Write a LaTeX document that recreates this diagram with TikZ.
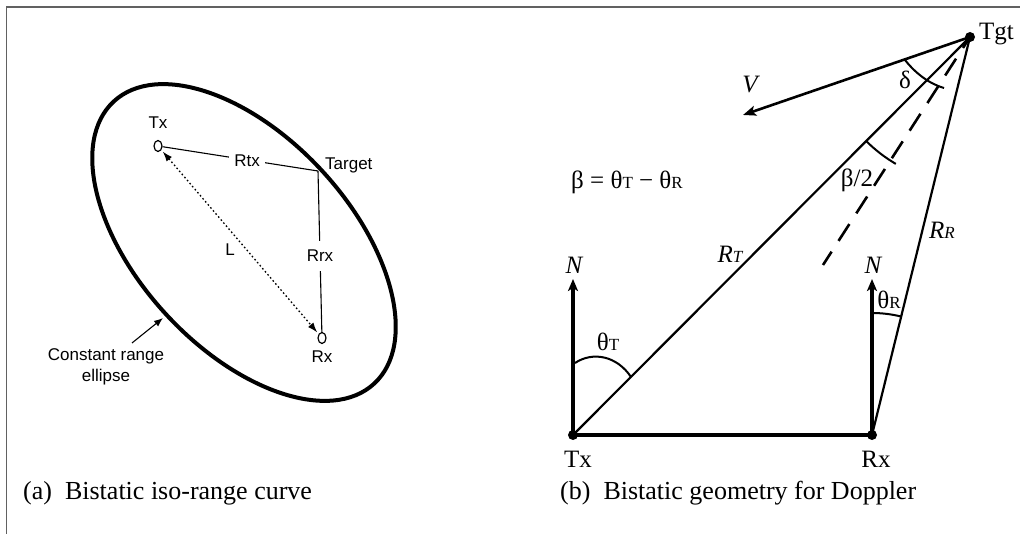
\documentclass[tikz,border=0pt]{standalone}
\usepackage{fontspec}
\setmainfont{Liberation Serif}
\newfontfamily\arialf{Liberation Sans}
\usetikzlibrary{arrows.meta,shapes.geometric,calc}
\newcommand\mysub[1]{{\fontsize{17}{20}\selectfont #1}}
\tikzset{
  frameline/.style={draw=black!62, line width=1.3pt},
  alab/.style={font=\arialf\fontsize{17}{21}\selectfont, inner sep=1pt},
  blab/.style={font=\fontsize{25}{30}\selectfont, inner sep=0pt},
  caplab/.style={font=\fontsize{26}{31}\selectfont, anchor=base west, inner sep=0pt},
  station/.style={draw, ellipse, line width=1.2pt, minimum width=8pt, minimum height=11pt, inner sep=0pt},
  aline/.style={line width=1.1pt},
  dotarrow/.style={line width=1.3pt, dash pattern=on 1.6pt off 2.4pt, {Latex[length=10pt,width=7pt]}-{Latex[length=10pt,width=7pt]}, shorten <=2pt, shorten >=2pt},
  pointarrow/.style={line width=1.1pt, -{Latex[length=9pt,width=7pt]}},
  dot/.style={circle, fill, inner sep=0pt, minimum size=10pt},
  baseln/.style={line width=3.3pt},
  northarrow/.style={line width=3.3pt, -{Stealth[length=12pt,width=10pt,inset=3pt]}},
  rangeln/.style={line width=2.2pt},
  velarrow/.style={line width=2.6pt, -{Stealth[length=13pt,width=10pt,inset=3pt]}},
  bisect/.style={line width=2.6pt, dash pattern=on 13pt off 12.8pt on 20pt off 12.8pt on 20pt off 12.8pt on 20pt off 12.8pt on 20pt off 12.8pt on 20pt off 12.8pt on 20pt off 12.8pt on 20pt off 12.8pt on 20pt off 12.8pt},
  anglearc/.style={line width=2pt}
}
\begin{document}
\begin{tikzpicture}[x=1pt,y=-1pt]
\useasboundingbox (0,0) rectangle (1020,534);
% frame
\draw[frameline] (6.5,534) -- (6.5,7) -- (1020,7);

% ---------- panel (a) ----------
\draw[line width=4pt, rotate around={-47.3:(244,242.5)}] (244,242.5) ellipse [x radius=192, y radius=106];
\node[station] (txa) at (158,146) {};
\node[station] (rxa) at (322,338) {};
\coordinate (tga) at (318,171);
\draw[aline] (txa) -- (tga);
\draw[aline] (tga) -- (rxa);
\draw[dotarrow] (txa) -- (rxa);
\node[alab, fill=white, inner xsep=5pt, inner ysep=2pt] (rtxl) at (247,161) {Rtx};
\node[alab, fill=white, inner xsep=2pt, inner ysep=9pt] (rrxl) at (320,256) {Rrx};
\node[alab] (txal) at (158,123) {Tx};
\node[alab] (rxal) at (322,357) {Rx};
\node[alab, anchor=west] (tgal) at (324,165) {Target};
\node[alab] (ll) at (230,250) {L};
\node[alab, align=center] (cre) at (106,367) {Constant range\\ellipse};
\coordinate (cstart) at (132,343);
\coordinate (ctip) at (163,318);
\draw[pointarrow] (cstart) -- (ctip);
\node[caplab] (capa) at (23,499) {(a)\hspace{0.5em}Bistatic iso-range curve};

% ---------- panel (b) ----------
\node[dot] (tgt) at (970,37) {};
\node[dot] (txb) at (573,435) {};
\node[dot] (rxb) at (872,435) {};
\coordinate (ntx) at (573,279);
\coordinate (nrx) at (872,279);
\coordinate (vend) at (743,115);
\coordinate (dend) at (823,265);
\draw[baseln] (txb.center) -- (rxb.center);
\draw[northarrow] (txb.center) -- (ntx);
\draw[northarrow] (rxb.center) -- (nrx);
\draw[rangeln] (txb.center) -- (tgt.center);
\draw[rangeln] (rxb.center) -- (tgt.center);
\draw[velarrow] (tgt.center) -- (vend);
\draw[bisect] (tgt.center) -- (dend);
% angle arcs
\draw[anglearc] ($(tgt)+(135.07:147)$) arc[start angle=135.07, end angle=120.3, radius=147];
\draw[anglearc] (905,60) .. controls (916,74) and (930,84) .. (944,88);
\draw[anglearc] (575,363) .. controls (593,351) and (617,356) .. (631,377);
\draw[anglearc] ($(rxb)+(-90:122)$) arc[start angle=-90, end angle=-76.2, radius=122];
% labels
\node[blab, anchor=base west] (tgtl) at (979,40) {Tgt};
\node[blab, anchor=base] (txbl) at (578,467) {Tx};
\node[blab, anchor=base] (rxbl) at (876,467) {Rx};
\node[blab] (ntxl) at (574,265) {\itshape N};
\node[blab] (nrxl) at (873,265) {\itshape N};
\node[blab] (vl) at (750,85) {\itshape V};
\node[blab] (dl) at (905,80) {δ};
\node[blab] (b2l) at (857,180) {β/2};
\node[blab] (forml) at (627,182) {β = θ\mysub{T} − θ\mysub{R}};
\node[blab] (rtl) at (730,254) {\itshape R\mysub{T}};
\node[blab] (rrl) at (942,230) {\itshape R\mysub{R}};
\node[blab] (thtl) at (608,342) {θ\mysub{T}};
\node[blab] (thrl) at (889,300) {θ\mysub{R}};
\node[caplab] (capb) at (560,499) {(b)\hspace{0.5em}Bistatic geometry for Doppler};
\end{tikzpicture}
\end{document}
